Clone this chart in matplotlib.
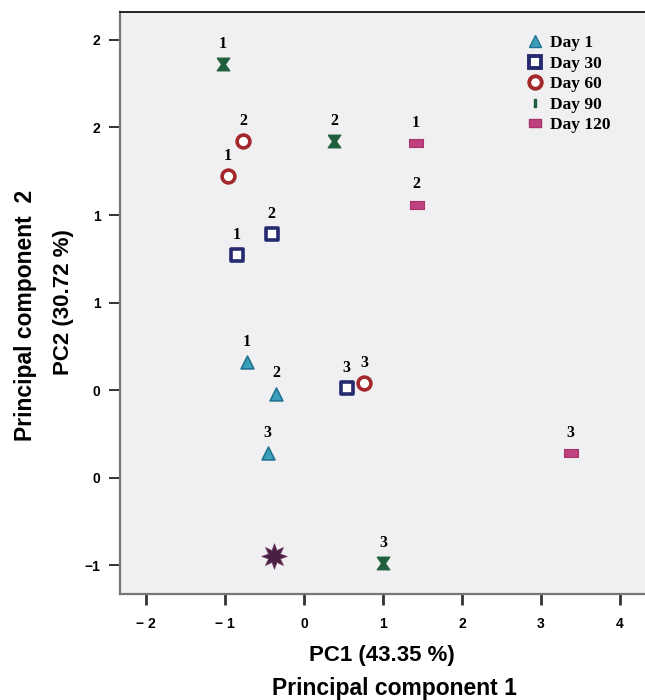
import numpy as np
import matplotlib.pyplot as plt
from matplotlib.lines import Line2D

# PCA scores (three replicates per sampling day)
days = ['Day 1', 'Day 30', 'Day 60', 'Day 90', 'Day 120']
replicates = ['1', '2', '3']
pc1_day1 = [-0.72, -0.35, -0.46]
pc2_day1 = [0.16, -0.02, -0.36]
pc1_day30 = [-0.85, -0.41, 0.54]
pc2_day30 = [0.77, 0.89, 0.01]
pc1_day60 = [-0.96, -0.77, 0.76]
pc2_day60 = [1.22, 1.42, 0.04]
pc1_day90 = [-1.03, 0.38, 1.00]
pc2_day90 = [1.86, 1.42, -0.99]
pc1_day120 = [1.42, 1.43, 3.38]
pc2_day120 = [1.41, 1.06, -0.36]
centroid_pc1 = [-0.38]
centroid_pc2 = [-0.95]

x_ticks = [-2, -1, 0, 1, 2, 3, 4]
x_tick_labels = ['\u2212 2', '\u2212 1', '0', '1', '2', '3', '4']
y_ticks = [-1, -0.5, 0, 0.5, 1, 1.5, 2]
y_tick_labels = ['\u22121', '0', '0', '1', '1', '2', '2']

hourglass = [(-1, 1), (1, 1), (0.3, 0), (1, -1), (-1, -1), (-0.3, 0), (-1, 1)]
wide_rect = [(-1.5, -0.95), (1.5, -0.95), (1.5, 0.95), (-1.5, 0.95), (-1.5, -0.95)]

styles = {
    'Day 1': dict(marker='^', s=85, facecolor='#3c9fba', edgecolor='#1f7391', linewidths=1.2),
    'Day 30': dict(marker='s', s=80, facecolor='white', edgecolor='#262a6e', linewidths=2.6),
    'Day 60': dict(marker='o', s=85, facecolor='white', edgecolor='#a3282b', linewidths=2.6),
    'Day 90': dict(marker=hourglass, s=85, facecolor='#1e5e3b', edgecolor='#1e5e3b', linewidths=0.8),
    'Day 120': dict(marker=wide_rect, s=95, facecolor='#c0417f', edgecolor='#a8346c', linewidths=0.8),
}

series = {
    'Day 1': (pc1_day1, pc2_day1),
    'Day 30': (pc1_day30, pc2_day30),
    'Day 60': (pc1_day60, pc2_day60),
    'Day 90': (pc1_day90, pc2_day90),
    'Day 120': (pc1_day120, pc2_day120),
}

fig = plt.figure(figsize=(6.45, 7.0), dpi=100)
ax = fig.add_axes([0.186, 0.151, 0.814, 0.832])
ax.set_facecolor('#f0f0f2')

serif = dict(family='Liberation Serif', weight='bold')
sans = dict(family='Liberation Sans', weight='bold')

for day in days:
    xs, ys = series[day]
    ax.scatter(xs, ys, zorder=3, **styles[day])
    for rep, x, y in zip(replicates, xs, ys):
        ax.annotate(rep, (x, y), xytext=(0, 14.5), textcoords='offset points',
                    ha='center', va='center', fontsize=11.5, **serif)

# reference sample
ax.scatter(centroid_pc1, centroid_pc2, marker=(8, 1, 0), s=330,
           facecolor='#4b1f44', edgecolor='#6a3a60', linewidths=0.6, zorder=3)

ax.set_xlim(-2.33, 4.32)
ax.set_ylim(-1.166, 2.16)
ax.set_xticks(x_ticks)
ax.set_xticklabels(x_tick_labels, fontsize=10, **sans)
ax.set_yticks(y_ticks)
ax.set_yticklabels(y_tick_labels, fontsize=10, **sans)
ax.tick_params(axis='x', length=8, width=2, color='#333333', pad=8)
ax.tick_params(axis='y', length=8, width=1.4, color='#333333', pad=6)

for side in ['left', 'bottom']:
    ax.spines[side].set_color('#777777')
    ax.spines[side].set_linewidth(1.6)
ax.spines['top'].set_color('#222222')
ax.spines['top'].set_linewidth(1.4)
ax.spines['right'].set_visible(False)

# legend
handles = [
    Line2D([], [], linestyle='none', marker='^', markersize=9,
           markerfacecolor='#3c9fba', markeredgecolor='#1f7391'),
    Line2D([], [], linestyle='none', marker='s', markersize=9,
           markerfacecolor='white', markeredgecolor='#262a6e', markeredgewidth=2.8),
    Line2D([], [], linestyle='none', marker='o', markersize=9,
           markerfacecolor='white', markeredgecolor='#a3282b', markeredgewidth=2.8),
    Line2D([], [], linestyle='none', marker='$\\mathrm{I}$', markersize=6,
           markerfacecolor='#1e5e3b', markeredgecolor='#1e5e3b'),
    Line2D([], [], linestyle='none', marker=wide_rect, markersize=9,
           markerfacecolor='#c0417f', markeredgecolor='#a8346c'),
]
leg = ax.legend(handles, days, loc='upper left', bbox_to_anchor=(0.745, 0.987),
                frameon=False, handlelength=1.0, handletextpad=0.35,
                labelspacing=0.25, prop=dict(family='Liberation Serif', weight='bold', size=12.5))

fig.text(0.098, 0.569, 'PC2 (30.72 %)', rotation=90, ha='center', va='center',
         fontsize=16, **sans)
fig.text(0.039, 0.55, 'Principal component  2', rotation=90, ha='center', va='center',
         fontsize=16.5, **sans)
fig.text(0.592, 0.064, 'PC1 (43.35 %)', ha='center', va='center', fontsize=16, **sans)
fig.text(0.611, 0.017, 'Principal component 1', ha='center', va='center',
         fontsize=16.5, **sans)

fig.savefig('out.png', dpi=100, facecolor='white')
